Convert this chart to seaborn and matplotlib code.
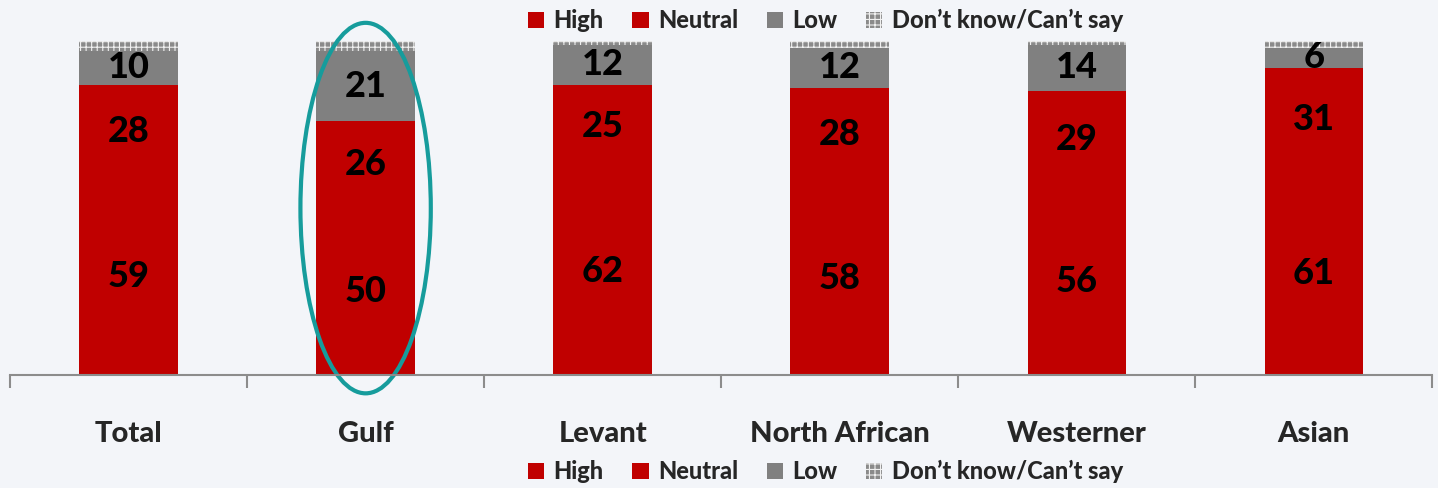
import matplotlib
matplotlib.use("Agg")
import matplotlib.pyplot as plt
from matplotlib.patches import Ellipse, Patch
import numpy as np
import pandas as pd
import seaborn as sns

categories = ["Total", "Gulf", "Levant", "North African", "Westerner", "Asian"]
high = [59, 50, 62, 58, 56, 61]
neutral = [28, 26, 25, 28, 29, 31]
low = [10, 21, 12, 12, 14, 6]
dont_know = [3, 3, 1, 2, 1, 2]

series = ["High", "Neutral", "Low", "Don\u2019t know/Can\u2019t say"]
colors = ["#c00000", "#c00000", "#808080", "#8a8a8a"]

df = pd.DataFrame({"category": categories, "High": high, "Neutral": neutral,
                   "Low": low, "DK": dont_know})

sns.set_style("white")
plt.rcParams["font.family"] = ["Lato", "DejaVu Sans"]
plt.rcParams["hatch.linewidth"] = 0.8

fig = plt.figure(figsize=(14.38, 4.88), dpi=100)
fig.patch.set_facecolor("#f3f5f9")
ax = fig.add_axes([0.007, 0.2316, 0.989, 0.684])
ax.set_facecolor("none")

cols = ["High", "Neutral", "Low", "DK"]
cum = df[cols].cumsum(axis=1)
# draw from the top layer down so each layer covers the one above's lower part
for i in range(3, -1, -1):
    sns.barplot(x=df["category"], y=cum[cols[i]], color=colors[i], width=0.415,
                saturation=1, ax=ax, order=categories, linewidth=0)

for p in ax.patches:
    p.set_linewidth(0)
# hatch the "don't know" layer (first drawn)
for p in ax.patches[:len(categories)]:
    p.set_hatch("+++")
    p.set_edgecolor("#f0f0f0")

# segment labels
for j in range(len(categories)):
    base = 0
    for c in ["High", "Neutral", "Low"]:
        v = df[c][j]
        ax.text(j, base + v / 2, str(v), ha="center", va="center",
                fontsize=26, fontweight=900, color="black")
        base += v

ax.set_xlim(-0.5, 5.5)
ax.set_ylim(0, 100)
ax.set_yticks([])
ax.set_xlabel("")
ax.set_ylabel("")
for s in ["top", "left", "right"]:
    ax.spines[s].set_visible(False)
ax.spines["bottom"].set_color("#8c8c8c")
ax.spines["bottom"].set_linewidth(1.5)
ax.set_xticks(range(len(categories)))
ax.set_xticklabels(categories, fontsize=21, fontweight=900)
ax.tick_params(axis="x", which="major", length=0, pad=33)
ax.set_xticks(np.arange(-0.5, 6, 1), minor=True)
ax.tick_params(axis="x", which="minor", bottom=True, length=9, width=1.5,
               color="#8c8c8c", direction="out")

# highlight ellipse around Gulf
ax.add_patch(Ellipse((1, 50), 0.55, 111, fill=False, edgecolor="#169c9c",
                     linewidth=3, clip_on=False))

handles = [Patch(facecolor=colors[k], edgecolor="#f0f0f0" if k == 3 else colors[k],
                 hatch="+++" if k == 3 else None, linewidth=0) for k in range(4)]
for ypos in [0.958, 0.033]:
    leg = fig.legend(handles, series, loc="center", bbox_to_anchor=(0.574, ypos),
                     ncol=4, frameon=False, handlelength=0.7, handleheight=0.7,
                     handletextpad=0.4, columnspacing=1.2,
                     prop={"size": 17, "weight": 900})

fig.savefig("out.png", dpi=100, facecolor=fig.get_facecolor())
